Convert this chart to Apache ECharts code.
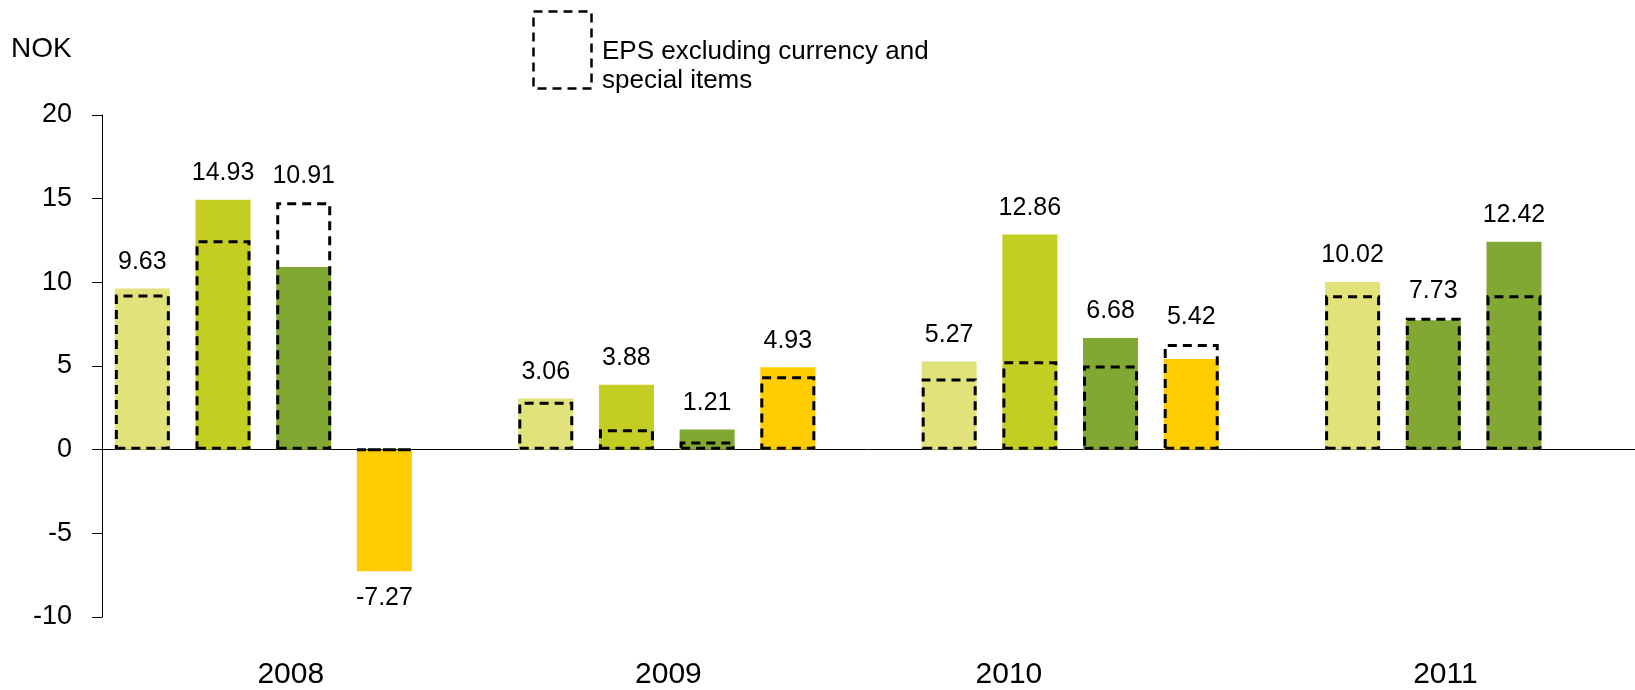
<!DOCTYPE html>
<html>
<head>
<meta charset="utf-8">
<script src="https://cdn.jsdelivr.net/npm/echarts@6/dist/echarts.min.js"></script>
<style>
  html, body { margin: 0; padding: 0; background: #fff; }
  #eps-chart { width: 1635px; height: 690px; }
</style>
</head>
<body>
<div id="eps-chart"></div>
<script>
// quarter slots, one empty slot after each year
const quarters = [
  'Q1 2008', 'Q2 2008', 'Q3 2008', 'Q4 2008', 'gap 2008',
  'Q1 2009', 'Q2 2009', 'Q3 2009', 'Q4 2009', 'gap 2009',
  'Q1 2010', 'Q2 2010', 'Q3 2010', 'Q4 2010', 'gap 2010',
  'Q1 2011', 'Q2 2011', 'Q3 2011', 'Q4 2011'
]
const epsReported = [
  9.63, 14.93, 10.91, -7.27, null,
  3.06, 3.88, 1.21, 4.93, null,
  5.27, 12.86, 6.68, 5.42, null,
  10.02, 7.73, 12.42, null
]
const epsExcluding = [
  9.27, 12.52, 14.79, 0, null,
  2.86, 1.22, 0.49, 4.38, null,
  4.26, 5.28, 5.03, 6.31, null,
  9.23, 7.89, 9.23, null
]
const years = ['2008', '2009', '2010', '2011']
const yTicks = [-10, -5, 0, 5, 10, 15, 20]

const legendName = 'EPS excluding currency and special items'
const font = 'Liberation Sans, Arial, sans-serif'

// where the year labels sit, in slot units
const yearLabelAt = [1.84, 6.52, 10.74, 16.15]

const Q1 = '#e1e27a'
const Q2 = '#c4cd22'
const Q3 = '#80a832'
const Q4 = '#ffcc00'
const barColors = [
  Q1, Q2, Q3, Q4, null,
  Q1, Q2, Q3, Q4, null,
  Q1, Q2, Q3, Q4, null,
  Q1, Q3, Q3, null
]

// the value label goes above whichever of the two boxes is taller
const labelOnDashed = (i) =>
  epsReported[i] !== null && epsReported[i] >= 0 &&
  epsExcluding[i] !== null && epsExcluding[i] > epsReported[i]

const reportedData = epsReported.map((v, i) => {
  if (v === null) return null
  if (v < 0) return { value: v, label: { position: 'bottom', distance: 14 } }
  if (labelOnDashed(i)) return { value: v, label: { show: false } }
  return v
})
const excludingData = epsExcluding.map((v, i) => {
  if (v === null) return null
  return labelOnDashed(i) ? { value: v, label: { show: true } } : v
})

const valueLabel = {
  position: 'top',
  distance: 14,
  fontSize: 25,
  color: '#000',
  fontFamily: font
}

const chart = echarts.init(document.getElementById('eps-chart'))

chart.setOption({
  animation: false,
  textStyle: { fontFamily: font, color: '#000' },
  title: {
    text: 'NOK',
    left: 6,
    top: 30,
    textStyle: { fontSize: 28, fontWeight: 'normal', color: '#000', fontFamily: font }
  },
  graphic: [
    {
      // legend swatch: dashed box
      type: 'rect',
      left: 531,
      top: 9,
      shape: { width: 58, height: 77 },
      style: { fill: null, stroke: '#000', lineWidth: 2.5, lineDash: [9, 6] }
    },
    {
      type: 'text',
      left: 602,
      top: 37,
      style: {
        text: 'EPS excluding currency and\nspecial items',
        font: '26px ' + font,
        lineHeight: 29,
        fill: '#000'
      }
    }
  ],
  grid: {
    left: 102,
    right: 0,
    top: 115,
    bottom: 67,
    containLabel: false
  },
  xAxis: [
    {
      type: 'category',
      data: quarters,
      boundaryGap: true,
      axisLine: { onZero: true, lineStyle: { color: '#000', width: 1 } },
      axisTick: { show: false },
      axisLabel: { show: false },
      splitLine: { show: false }
    },
    {
      type: 'value',
      min: -0.5,
      max: quarters.length - 0.5,
      position: 'bottom',
      axisLine: { show: false, onZero: false },
      axisTick: { show: false },
      splitLine: { show: false },
      axisLabel: {
        customValues: yearLabelAt,
        formatter: (v) => years[yearLabelAt.indexOf(v)] || '',
        fontSize: 30,
        color: '#000',
        fontFamily: font,
        margin: 43
      }
    }
  ],
  yAxis: {
    type: 'value',
    min: yTicks[0],
    max: yTicks[yTicks.length - 1],
    interval: 5,
    axisLine: { show: true, onZero: false, lineStyle: { color: '#000', width: 1 } },
    axisTick: { show: true, length: 10, lineStyle: { color: '#000' } },
    splitLine: { show: false },
    axisLabel: {
      fontSize: 27,
      color: '#000',
      fontFamily: font,
      margin: 30
    }
  },
  series: [
    {
      name: 'EPS',
      type: 'bar',
      xAxisIndex: 0,
      barWidth: 55,
      barGap: '-100%',
      data: reportedData,
      itemStyle: {
        color: (p) => barColors[p.dataIndex] || Q1
      },
      label: Object.assign({ show: true, formatter: (p) => p.value.toFixed(2) }, valueLabel),
      z: 2
    },
    {
      name: legendName,
      type: 'bar',
      xAxisIndex: 0,
      barWidth: 55,
      barGap: '-100%',
      data: excludingData,
      itemStyle: {
        color: 'rgba(0,0,0,0)',
        borderColor: '#000',
        borderWidth: 3,
        borderType: [9, 6]
      },
      label: Object.assign(
        { show: false, formatter: (p) => epsReported[p.dataIndex].toFixed(2) },
        valueLabel
      ),
      z: 3
    }
  ]
})
</script>
</body>
</html>
